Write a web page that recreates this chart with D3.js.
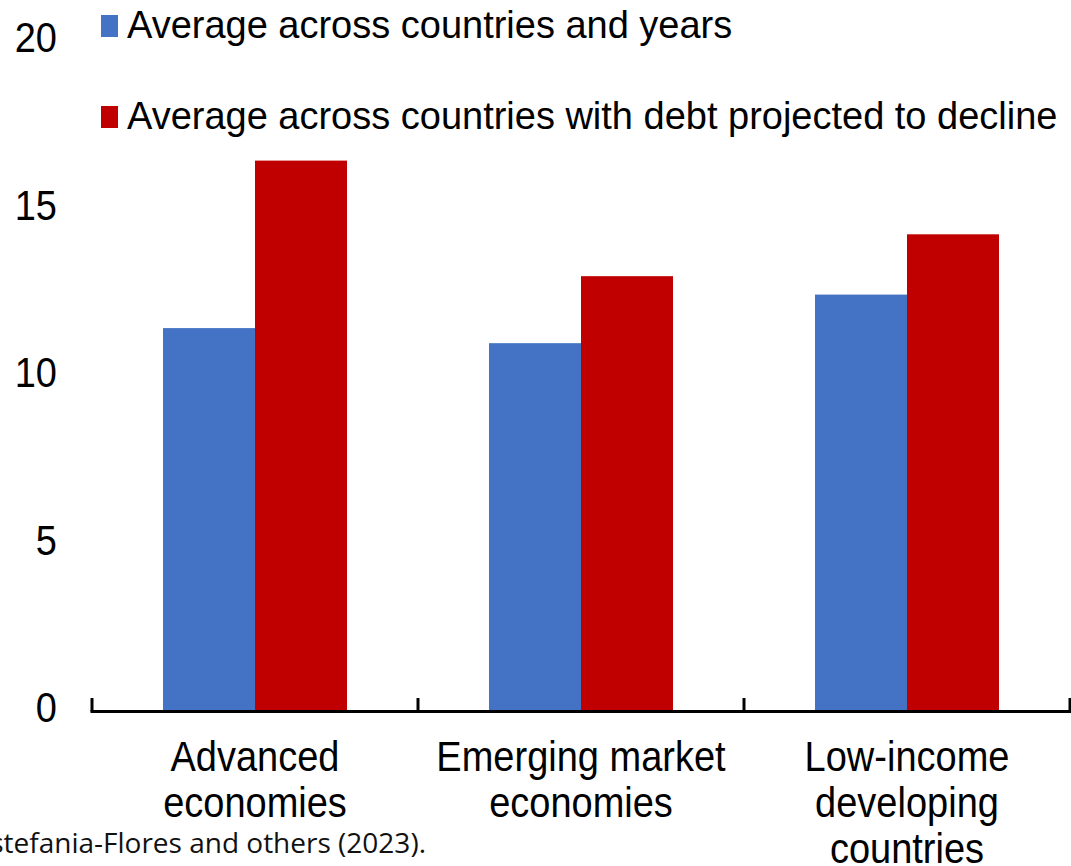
<!DOCTYPE html>
<html>
<head>
<meta charset="utf-8">
<script src="https://cdn.jsdelivr.net/npm/d3@7"></script>
<style>
  html, body { margin: 0; padding: 0; background: #fff; overflow: hidden; }
  svg { display: block; }
  .lbl { font-family: "Liberation Sans", Arial, sans-serif; fill: #000; }
  .note { font-family: "Open Sans", "Noto Sans", sans-serif; fill: #111; }
</style>
</head>
<body>
<svg id="chart" width="1071" height="866"></svg>
<script>
// Country groups along the x axis (each label split into its printed lines)
const categories = ["Advanced economies", "Emerging market economies", "Low-income developing countries"];
const categoryLines = [["Advanced", "economies"], ["Emerging market", "economies"], ["Low-income", "developing", "countries"]];

// Series
const seriesNames = ["Average across countries and years", "Average across countries with debt projected to decline"];
const seriesColors = ["#4472C4", "#C00000"];
const avgAllYears = [11.4, 10.95, 12.4];
const avgDebtDecline = [16.4, 12.95, 14.2];

// Y axis ticks
const yTicks = [0, 5, 10, 15, 20];

const svg = d3.select("#chart");

const plot = { left: 92, right: 1070, top: 40, bottom: 710 };
const stretch = 1.1; // labels are drawn slightly taller than wide

const y = d3.scaleLinear().domain([0, 20]).range([plot.bottom, plot.top]);

const x0 = d3.scaleBand()
  .domain(categories)
  .range([plot.left, plot.right])
  .paddingInner(0.4356)
  .paddingOuter(0.2178);

const x1 = d3.scaleBand()
  .domain(seriesNames)
  .range([0, x0.bandwidth()])
  .padding(0);

const rows = categories.map((c, i) => ({
  cat: c,
  values: [
    { s: seriesNames[0], v: avgAllYears[i], color: seriesColors[0] },
    { s: seriesNames[1], v: avgDebtDecline[i], color: seriesColors[1] }
  ]
}));

// Bars
const groups = svg.append("g").selectAll("g")
  .data(rows)
  .join("g")
  .attr("transform", d => `translate(${x0(d.cat)},0)`);

groups.selectAll("rect")
  .data(d => d.values)
  .join("rect")
  .attr("x", d => x1(d.s))
  .attr("width", x1.bandwidth())
  .attr("y", d => y(d.v))
  .attr("height", d => y(0) - y(d.v))
  .attr("fill", d => d.color);

// Category axis: baseline and tick marks at band boundaries
const axisY = y(0) + 1.5;
svg.append("line")
  .attr("x1", plot.left - 1.5).attr("x2", 1071)
  .attr("y1", axisY).attr("y2", axisY)
  .attr("stroke", "#000").attr("stroke-width", 3);

const boundaries = d3.range(categories.length + 1).map(i => plot.left + i * x0.step());
svg.append("g").selectAll("line")
  .data(boundaries)
  .join("line")
  .attr("x1", d => d).attr("x2", d => d)
  .attr("y1", y(0) - 12).attr("y2", axisY)
  .attr("stroke", "#000").attr("stroke-width", 3);

// Category labels
const catLabels = svg.append("g").selectAll("text")
  .data(categories)
  .join("text")
  .attr("class", "lbl")
  .attr("text-anchor", "middle")
  .attr("font-size", 38)
  .attr("transform", d => `translate(${x0(d) + x0.bandwidth() / 2},771) scale(1,${stretch})`);

catLabels.selectAll("tspan")
  .data((d, i) => categoryLines[i])
  .join("tspan")
  .attr("x", 0)
  .attr("dy", (d, i) => i === 0 ? 0 : 46 / stretch)
  .text(d => d);

// Value axis labels (no axis line)
svg.append("g").selectAll("text")
  .data(yTicks)
  .join("text")
  .attr("class", "lbl")
  .attr("text-anchor", "end")
  .attr("font-size", 38)
  .attr("transform", d => `translate(57,${y(d) + 12}) scale(1,${stretch})`)
  .text(d => d);

// Legend
const legend = svg.append("g").selectAll("g")
  .data(seriesNames)
  .join("g")
  .attr("transform", (d, i) => `translate(101,${15 + i * 91})`);

legend.append("rect")
  .attr("width", 17).attr("height", 22)
  .attr("fill", (d, i) => seriesColors[i]);

legend.append("text")
  .attr("class", "lbl")
  .attr("font-size", 38)
  .attr("transform", `translate(26,23) scale(1,1.04)`)
  .text(d => d);

// Source note
svg.append("text")
  .attr("class", "note")
  .attr("font-size", 28)
  .attr("text-anchor", "end")
  .attr("x", 426)
  .attr("y", 853)
  .text("Estefania-Flores and others (2023).");
</script>
</body>
</html>
